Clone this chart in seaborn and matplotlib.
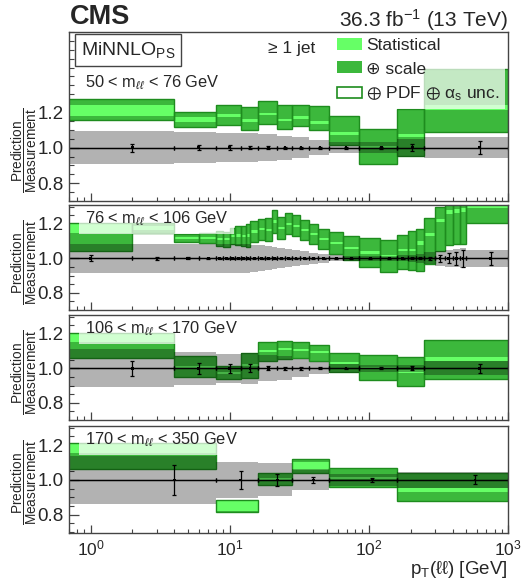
import numpy as np
import matplotlib
matplotlib.use('Agg')
import matplotlib.pyplot as plt
import seaborn as sns
from matplotlib.patches import Patch
from matplotlib.ticker import LogLocator, FixedLocator, MultipleLocator, NullFormatter, LogFormatterMathtext

# ---- data ----
# bin edges of pT(ll) in GeV
edges_1 = [0, 4, 8, 12, 16, 22, 28, 37, 52, 85, 160, 250, 1000]
edges_2 = [0, 2, 4, 6, 8, 9, 10, 11, 12, 13, 14, 16, 18, 20, 22, 25, 28, 32, 37, 43,
           52, 65, 85, 120, 160, 190, 220, 250, 300, 350, 400, 450, 500, 1000]
edges_3 = [0, 4, 8, 12, 16, 22, 28, 37, 52, 85, 160, 250, 1000]
edges_4 = [0, 8, 16, 28, 52, 160, 1000]

mass_labels = ['50 < m$_{\\ell\\ell}$ < 76 GeV', '76 < m$_{\\ell\\ell}$ < 106 GeV',
               '106 < m$_{\\ell\\ell}$ < 170 GeV', '170 < m$_{\\ell\\ell}$ < 350 GeV']

# prediction / measurement: total band (low, high)
pred_lo_1 = [1.154, 1.114, 1.126, 1.098, 1.133, 1.105, 1.124, 1.097, 1.017, 0.906, 0.955, 1.088]
pred_hi_1 = [1.274, 1.199, 1.237, 1.227, 1.263, 1.238, 1.242, 1.235, 1.176, 1.103, 1.218, 1.440]
pred_lo_2 = [1.042, 1.149, 1.097, 1.091, 1.072, 1.068, 1.081, 1.076, 1.070, 1.066, 1.095, 1.105,
             1.100, 1.149, 1.114, 1.140, 1.128, 1.108, 1.083, 1.056, 1.023, 0.988, 0.950, 0.920,
             0.936, 0.930, 0.927, 0.965, 1.042, 1.077, 1.085, 1.085, 1.203]
pred_hi_2 = [1.207, 1.207, 1.140, 1.149, 1.159, 1.153, 1.174, 1.190, 1.190, 1.200, 1.217, 1.230,
             1.232, 1.279, 1.242, 1.265, 1.250, 1.221, 1.198, 1.172, 1.153, 1.130, 1.116, 1.107,
             1.134, 1.159, 1.168, 1.237, 1.300, 1.360, 1.380, 1.400, 1.420]
pred_lo_3 = [1.058, 0.948, 0.938, 0.942, 1.041, 1.054, 1.060, 1.045, 0.977, 0.932, 0.900, 0.938]
pred_hi_3 = [1.205, 1.074, 1.012, 1.089, 1.151, 1.157, 1.151, 1.136, 1.087, 1.078, 1.068, 1.167]
pred_lo_4 = [1.061, 0.818, 0.971, 1.042, 0.962, 0.881]
pred_hi_4 = [1.210, 0.885, 1.042, 1.119, 1.067, 1.038]

# statistical band of the prediction (centre, half width)
stat_c_1 = [1.210, 1.158, 1.180, 1.152, 1.188, 1.155, 1.168, 1.141, 1.080, 1.000, 1.070, 1.228]
stat_e_1 = [0.030, 0.014, 0.007, 0.007, 0.007, 0.006, 0.007, 0.006, 0.007, 0.008, 0.009, 0.014]
stat_c_2 = [1.178, 1.178, 1.118, 1.120, 1.115, 1.110, 1.128, 1.133, 1.130, 1.133, 1.156, 1.168,
            1.166, 1.214, 1.178, 1.202, 1.189, 1.165, 1.140, 1.114, 1.088, 1.059, 1.033, 1.013,
            1.047, 1.047, 1.090, 1.137, 1.220, 1.270, 1.275, 1.280, 1.300]
stat_e_2 = [0.028, 0.012, 0.006, 0.006, 0.006, 0.006, 0.006, 0.006, 0.006, 0.006, 0.006, 0.006,
            0.006, 0.006, 0.006, 0.006, 0.006, 0.006, 0.006, 0.006, 0.006, 0.006, 0.007, 0.007,
            0.006, 0.006, 0.010, 0.008, 0.010, 0.012, 0.012, 0.012, 0.010]
stat_c_3 = [1.178, 1.010, 0.975, 1.020, 1.102, 1.110, 1.108, 1.095, 1.030, 1.000, 0.980, 1.055]
stat_e_3 = [0.022, 0.006, 0.006, 0.006, 0.006, 0.006, 0.006, 0.006, 0.006, 0.006, 0.008, 0.010]
stat_c_4 = [1.180, 0.852, 1.005, 1.080, 1.010, 0.942]
stat_e_4 = [0.028, 0.030, 0.006, 0.022, 0.006, 0.010]

# measurement total uncertainty (half width of the grey band)
meas_unc_1 = [0.093, 0.086, 0.083, 0.082, 0.077, 0.068, 0.057, 0.043, 0.032, 0.030, 0.050, 0.060]
meas_unc_2 = [0.085, 0.085, 0.085, 0.085, 0.085, 0.085, 0.085, 0.085, 0.083, 0.083, 0.080, 0.076,
              0.070, 0.064, 0.058, 0.052, 0.046, 0.040, 0.034, 0.025, 0.018, 0.015, 0.015, 0.015,
              0.018, 0.020, 0.025, 0.035, 0.045, 0.050, 0.052, 0.058, 0.050]
meas_unc_3 = [0.110, 0.097, 0.085, 0.092, 0.075, 0.070, 0.052, 0.035, 0.025, 0.020, 0.020, 0.040]
meas_unc_4 = [0.140, 0.105, 0.095, 0.060, 0.035, 0.048]

# measurement statistical error bars
meas_stat_1 = [0.022, 0.013, 0.012, 0.010, 0.008, 0.006, 0.006, 0.005, 0.005, 0.006, 0.018, 0.038]
meas_stat_2 = [0.018, 0.008, 0.006, 0.005, 0.005, 0.005, 0.005, 0.005, 0.005, 0.005, 0.004, 0.004,
               0.004, 0.004, 0.004, 0.004, 0.004, 0.004, 0.004, 0.004, 0.004, 0.004, 0.004, 0.004,
               0.005, 0.006, 0.006, 0.010, 0.019, 0.029, 0.036, 0.048, 0.038]
meas_stat_3 = [0.045, 0.031, 0.028, 0.024, 0.012, 0.010, 0.008, 0.006, 0.005, 0.006, 0.012, 0.027]
meas_stat_4 = [0.085, 0.052, 0.032, 0.015, 0.012, 0.026]

panels = [
    (edges_1, pred_lo_1, pred_hi_1, stat_c_1, stat_e_1, meas_unc_1, meas_stat_1),
    (edges_2, pred_lo_2, pred_hi_2, stat_c_2, stat_e_2, meas_unc_2, meas_stat_2),
    (edges_3, pred_lo_3, pred_hi_3, stat_c_3, stat_e_3, meas_unc_3, meas_stat_3),
    (edges_4, pred_lo_4, pred_hi_4, stat_c_4, stat_e_4, meas_unc_4, meas_stat_4),
]

# ---- style ----
sns.set_theme(style='ticks')
plt.rcParams['font.family'] = ['Liberation Sans', 'DejaVu Sans']
plt.rcParams['mathtext.fontset'] = 'custom'
plt.rcParams['mathtext.rm'] = 'Liberation Sans'
plt.rcParams['mathtext.it'] = 'Liberation Sans:italic'
plt.rcParams['mathtext.bf'] = 'Liberation Sans:bold'
plt.rcParams['mathtext.sf'] = 'Liberation Sans'
plt.rcParams['mathtext.fallback'] = 'stixsans'

LIGHT = '#66ff66'
MID = '#3cb83c'
DARK = '#1e8c1e'
FRAME = '#444444'
XMIN, XMAX = 0.7, 1000

W, H = 524, 579
fig = plt.figure(figsize=(W / 100, H / 100), dpi=100)

# panel rectangles in pixels: (top, bottom) and y ranges
rows = [(32, 201, (0.70, 1.65)), (205, 310, (0.70, 1.31)),
        (315, 420, (0.70, 1.31)), (426, 533, (0.695, 1.31))]
label_y = [0.30, 0.457, 0.457, 0.477]

axes = []
for i, (top, bot, ylim) in enumerate(rows):
    ax = fig.add_axes([69 / W, 1 - bot / H, 439 / W, (bot - top) / H])
    edges, lo, hi, sc, se, mu, ms = panels[i]
    e = np.array(edges, float)
    left = np.where(e[:-1] > 0, e[:-1], 0.5)
    right = e[1:]
    width = right - left
    centers = (e[:-1] + e[1:]) / 2
    lo = np.array(lo); hi = np.array(hi)
    sc = np.array(sc); se = np.array(se)
    mu = np.array(mu); ms = np.array(ms)

    # prediction: scale band, statistical band, full outline
    ax.bar(left, hi - lo, width=width, bottom=lo, align='edge',
           color=MID, linewidth=0, zorder=1)
    ax.bar(left, 2 * se, width=width, bottom=sc - se, align='edge',
           color=LIGHT, linewidth=0, zorder=2)
    ax.bar(left, hi - lo, width=width, bottom=lo, align='edge',
           facecolor='none', edgecolor=DARK, linewidth=1.0, zorder=3)
    # measurement uncertainty band
    ax.bar(left, 2 * mu, width=width, bottom=1 - mu, align='edge',
           color='black', alpha=0.3, linewidth=0, zorder=4)
    # measurement points
    ax.axhline(1.0, color='black', lw=0.9, zorder=5)
    ax.errorbar(centers, np.ones_like(centers), yerr=ms,
                xerr=[centers - left, right - centers], fmt='none',
                ecolor='black', elinewidth=0.9, capsize=1.3, capthick=0.9, zorder=6)
    sns.scatterplot(x=centers, y=np.ones_like(centers), marker='s', s=4,
                    color='black', edgecolor='none', ax=ax, zorder=7, legend=False)

    ax.set_xscale('log')
    ax.set_xlim(XMIN, XMAX)
    ax.set_ylim(*ylim)
    ax.xaxis.set_major_locator(LogLocator(base=10, numticks=10))
    ax.xaxis.set_minor_locator(LogLocator(base=10, subs=np.arange(2, 10), numticks=20))
    ax.xaxis.set_minor_formatter(NullFormatter())
    ax.yaxis.set_major_locator(FixedLocator([0.8, 1.0, 1.2]))
    ax.yaxis.set_minor_locator(MultipleLocator(0.05))
    ax.tick_params(axis='both', which='both', direction='in', top=False, right=False,
                   color=FRAME)
    ax.tick_params(axis='y', which='major', length=7, width=0.9, labelsize=13.5, pad=4)
    ax.tick_params(axis='y', which='minor', length=3.5, width=0.8)
    ax.tick_params(axis='x', which='major', length=6, width=0.9, labelsize=12.5, pad=4)
    ax.tick_params(axis='x', which='minor', length=3, width=0.8)
    if i < 3:
        ax.xaxis.set_major_formatter(NullFormatter())
    else:
        ax.xaxis.set_major_formatter(LogFormatterMathtext())
    for sp in ax.spines.values():
        sp.set_color(FRAME)
        sp.set_linewidth(1.0)
        sp.set_zorder(12)
    ax.set_facecolor('white')
    ax.grid(False)

    ax.set_ylabel(r'$\dfrac{\mathrm{Prediction}}{\mathrm{Measurement}}$', fontsize=9.8,
                  va='center')
    ax.yaxis.set_label_coords(-0.1025, label_y[i])

    ax.text(16 / 439, 1 - (83 - 32) / 169 if i == 0 else 1 - 13.5 / (bot - top),
            mass_labels[i], transform=ax.transAxes, fontsize=11.8, va='center', ha='left',
            zorder=10,
            bbox=dict(boxstyle='square,pad=0.35', facecolor='white', alpha=0.7,
                      edgecolor='none'))
    axes.append(ax)

ax0 = axes[0]
ax0.text(12 / 439, 1 - 18 / 169, 'MiNNLO$_{\\mathrm{PS}}$', transform=ax0.transAxes,
         fontsize=14, va='center', ha='left', zorder=10,
         bbox=dict(boxstyle='square,pad=0.3', facecolor='white', edgecolor=FRAME, lw=1))
ax0.text(199 / 439, 1 - 16 / 169, '≥ 1 jet', transform=ax0.transAxes,
         fontsize=12.5, va='center', ha='left', zorder=10)

handles = [Patch(facecolor=LIGHT, edgecolor='none'),
           Patch(facecolor=MID, edgecolor='none'),
           Patch(facecolor='white', edgecolor=DARK, linewidth=1.2)]
leg = ax0.legend(handles, ['Statistical', '⊕ scale',
                           '$\\oplus$ PDF $\\oplus$ α$_{\\mathrm{s}}$ unc.'],
                 loc='upper right', bbox_to_anchor=(436 / 439, 0.995), fontsize=12.5,
                 frameon=True, framealpha=0.7, edgecolor='none', fancybox=False,
                 handlelength=1.45, handleheight=0.65, handletextpad=0.25,
                 labelspacing=0.48, borderpad=0.3, borderaxespad=0.0)
leg.get_frame().set_facecolor('white')
leg.set_zorder(10)

fig.text(70 / W, 1 - 24 / H, 'CMS', fontsize=19.5, fontweight='bold', va='baseline', ha='left')
fig.text(508 / W, 1 - 27 / H, '36.3 fb$^{-1}$ (13 TeV)', fontsize=15, va='baseline', ha='right')
fig.text(508 / W, 1 - 569 / H, 'p$_{\\mathrm{T}}$(ℓℓ) [GeV]', fontsize=13.5, va='center', ha='right')

fig.savefig('out.png', dpi=100)
